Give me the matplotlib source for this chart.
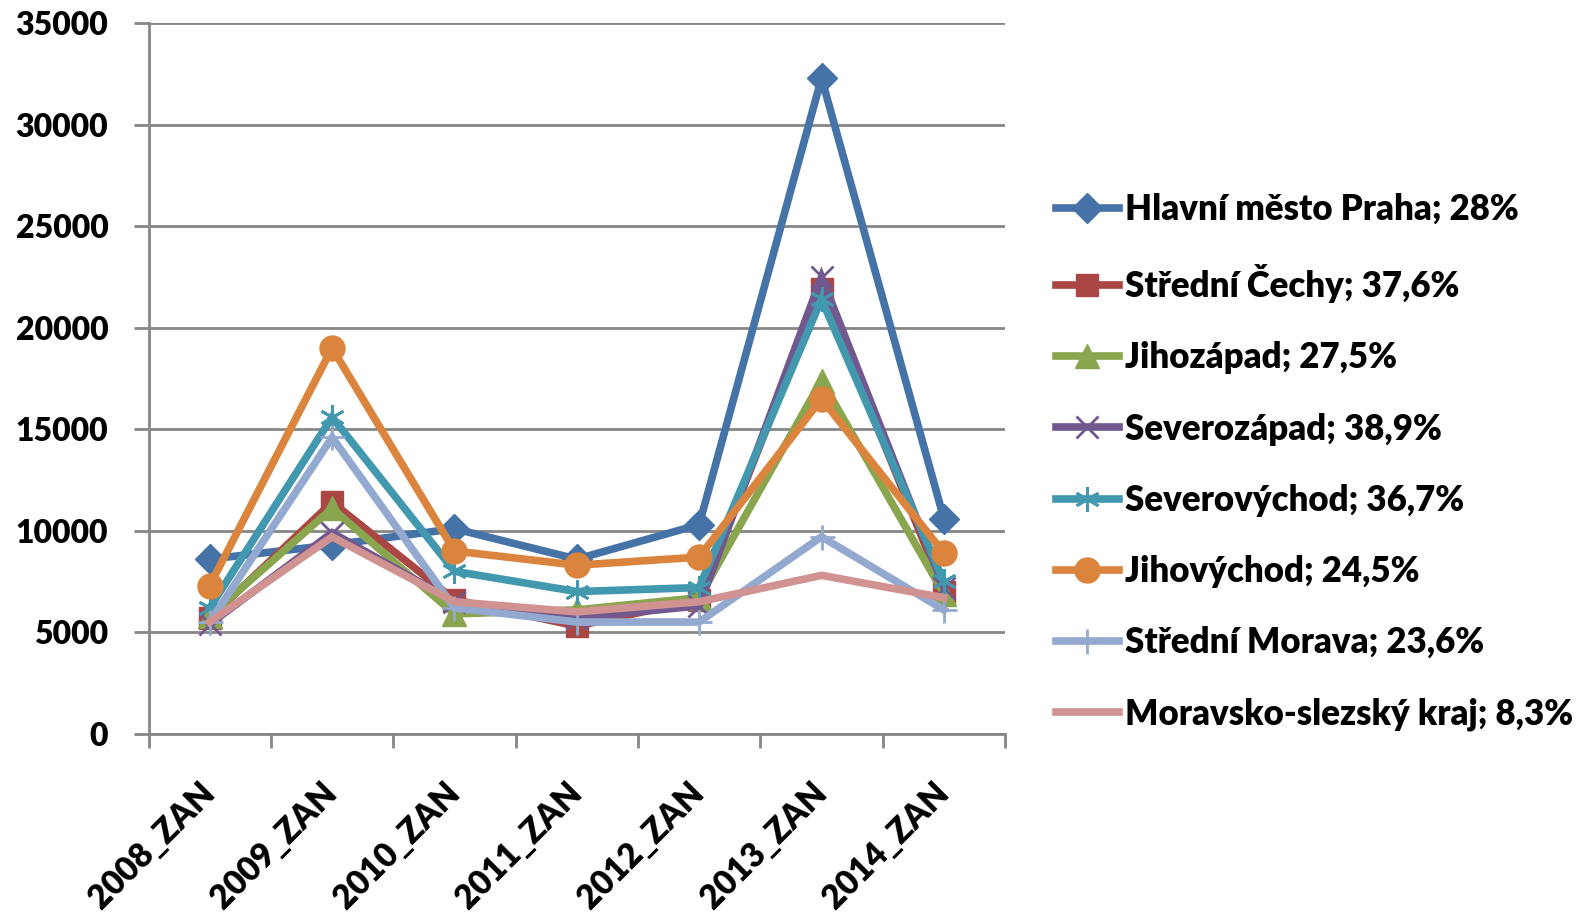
import numpy as np
import matplotlib.pyplot as plt
from matplotlib.ticker import FixedLocator

categories = ["2008_ZAN", "2009_ZAN", "2010_ZAN", "2011_ZAN", "2012_ZAN", "2013_ZAN", "2014_ZAN"]

praha = [8600, 9300, 10100, 8600, 10300, 32300, 10600]
stredni_cechy = [5700, 11400, 6600, 5300, 6600, 21900, 7000]
jihozapad = [5800, 11100, 5900, 6100, 6700, 17400, 6900]
severozapad = [5400, 9900, 6500, 5700, 6300, 22500, 7200]
severovychod = [6200, 15600, 8000, 7000, 7200, 21400, 7500]
jihovychod = [7300, 19000, 9000, 8300, 8700, 16500, 8900]
stredni_morava = [5500, 14600, 6200, 5500, 5500, 9700, 6100]
moravsko_slezsky = [5500, 9700, 6500, 6000, 6500, 7800, 6700]

labels = ["Hlavní město Praha; 28%", "Střední Čechy; 37,6%", "Jihozápad; 27,5%",
          "Severozápad; 38,9%", "Severovýchod; 36,7%", "Jihovýchod; 24,5%",
          "Střední Morava; 23,6%", "Moravsko-slezský kraj; 8,3%"]

series = [praha, stredni_cechy, jihozapad, severozapad, severovychod,
          jihovychod, stredni_morava, moravsko_slezsky]
colors = ["#4572A7", "#AA4643", "#89A54E", "#71588F", "#4198AF",
          "#DB843D", "#93A9CF", "#D19392"]
markers = ["D", "s", "^", "x", (6, 2, 0), "o", "+", None]
msizes = [15, 16, 17, 16, 18, 18, 18, 0]

plt.rcParams['font.family'] = ['Lato', 'DejaVu Sans']
plt.rcParams['font.weight'] = 'heavy'

fig = plt.figure(figsize=(15.89, 9.14), dpi=100)
ax = fig.add_axes([0.0935, 0.1973, 0.539, 0.7772])

x = np.arange(len(categories))
for vals, lab, c, m, ms in zip(series, labels, colors, markers, msizes):
    mew = 2 if m in ("x", "+", (6, 2, 0)) else 1
    ax.plot(x, vals, color=c, lw=5.5, marker=m, markersize=ms,
            markeredgewidth=mew, markeredgecolor=c, label=lab,
            solid_joinstyle='miter', clip_on=False)

ax.set_xlim(-0.5, len(categories) - 0.5)
ax.set_ylim(0, 35000)
ax.set_yticks(np.arange(0, 35001, 5000))
ax.set_yticklabels([str(v) for v in range(0, 35001, 5000)], fontsize=23, fontweight='heavy')
ax.grid(axis='y', color='#868686', lw=2)
ax.set_axisbelow(True)

ax.xaxis.set_major_locator(FixedLocator(x))
ax.set_xticklabels(categories, rotation=45, ha='right', va='center',
                   rotation_mode='anchor', fontsize=24, fontweight='heavy')
ax.xaxis.set_minor_locator(FixedLocator(np.arange(-0.5, len(categories), 1)))
ax.tick_params(axis='x', which='major', length=0, pad=39)
ax.tick_params(axis='x', which='minor', length=10, width=2, color='#868686')
ax.tick_params(axis='y', length=11, width=2, color='#868686', pad=18)

for s in ['top', 'right']:
    ax.spines[s].set_visible(False)
for s in ['left', 'bottom']:
    ax.spines[s].set_color('#868686')
    ax.spines[s].set_linewidth(2)

leg = ax.legend(loc='center left', bbox_to_anchor=(1056 / 1589, 452 / 914),
                bbox_transform=fig.transFigure, frameon=False,
                handlelength=1.8, handletextpad=0.2, labelspacing=1.1,
                borderaxespad=0, borderpad=0,
                prop={'weight': 'heavy', 'size': 25})

fig.savefig("out.png", dpi=100)
